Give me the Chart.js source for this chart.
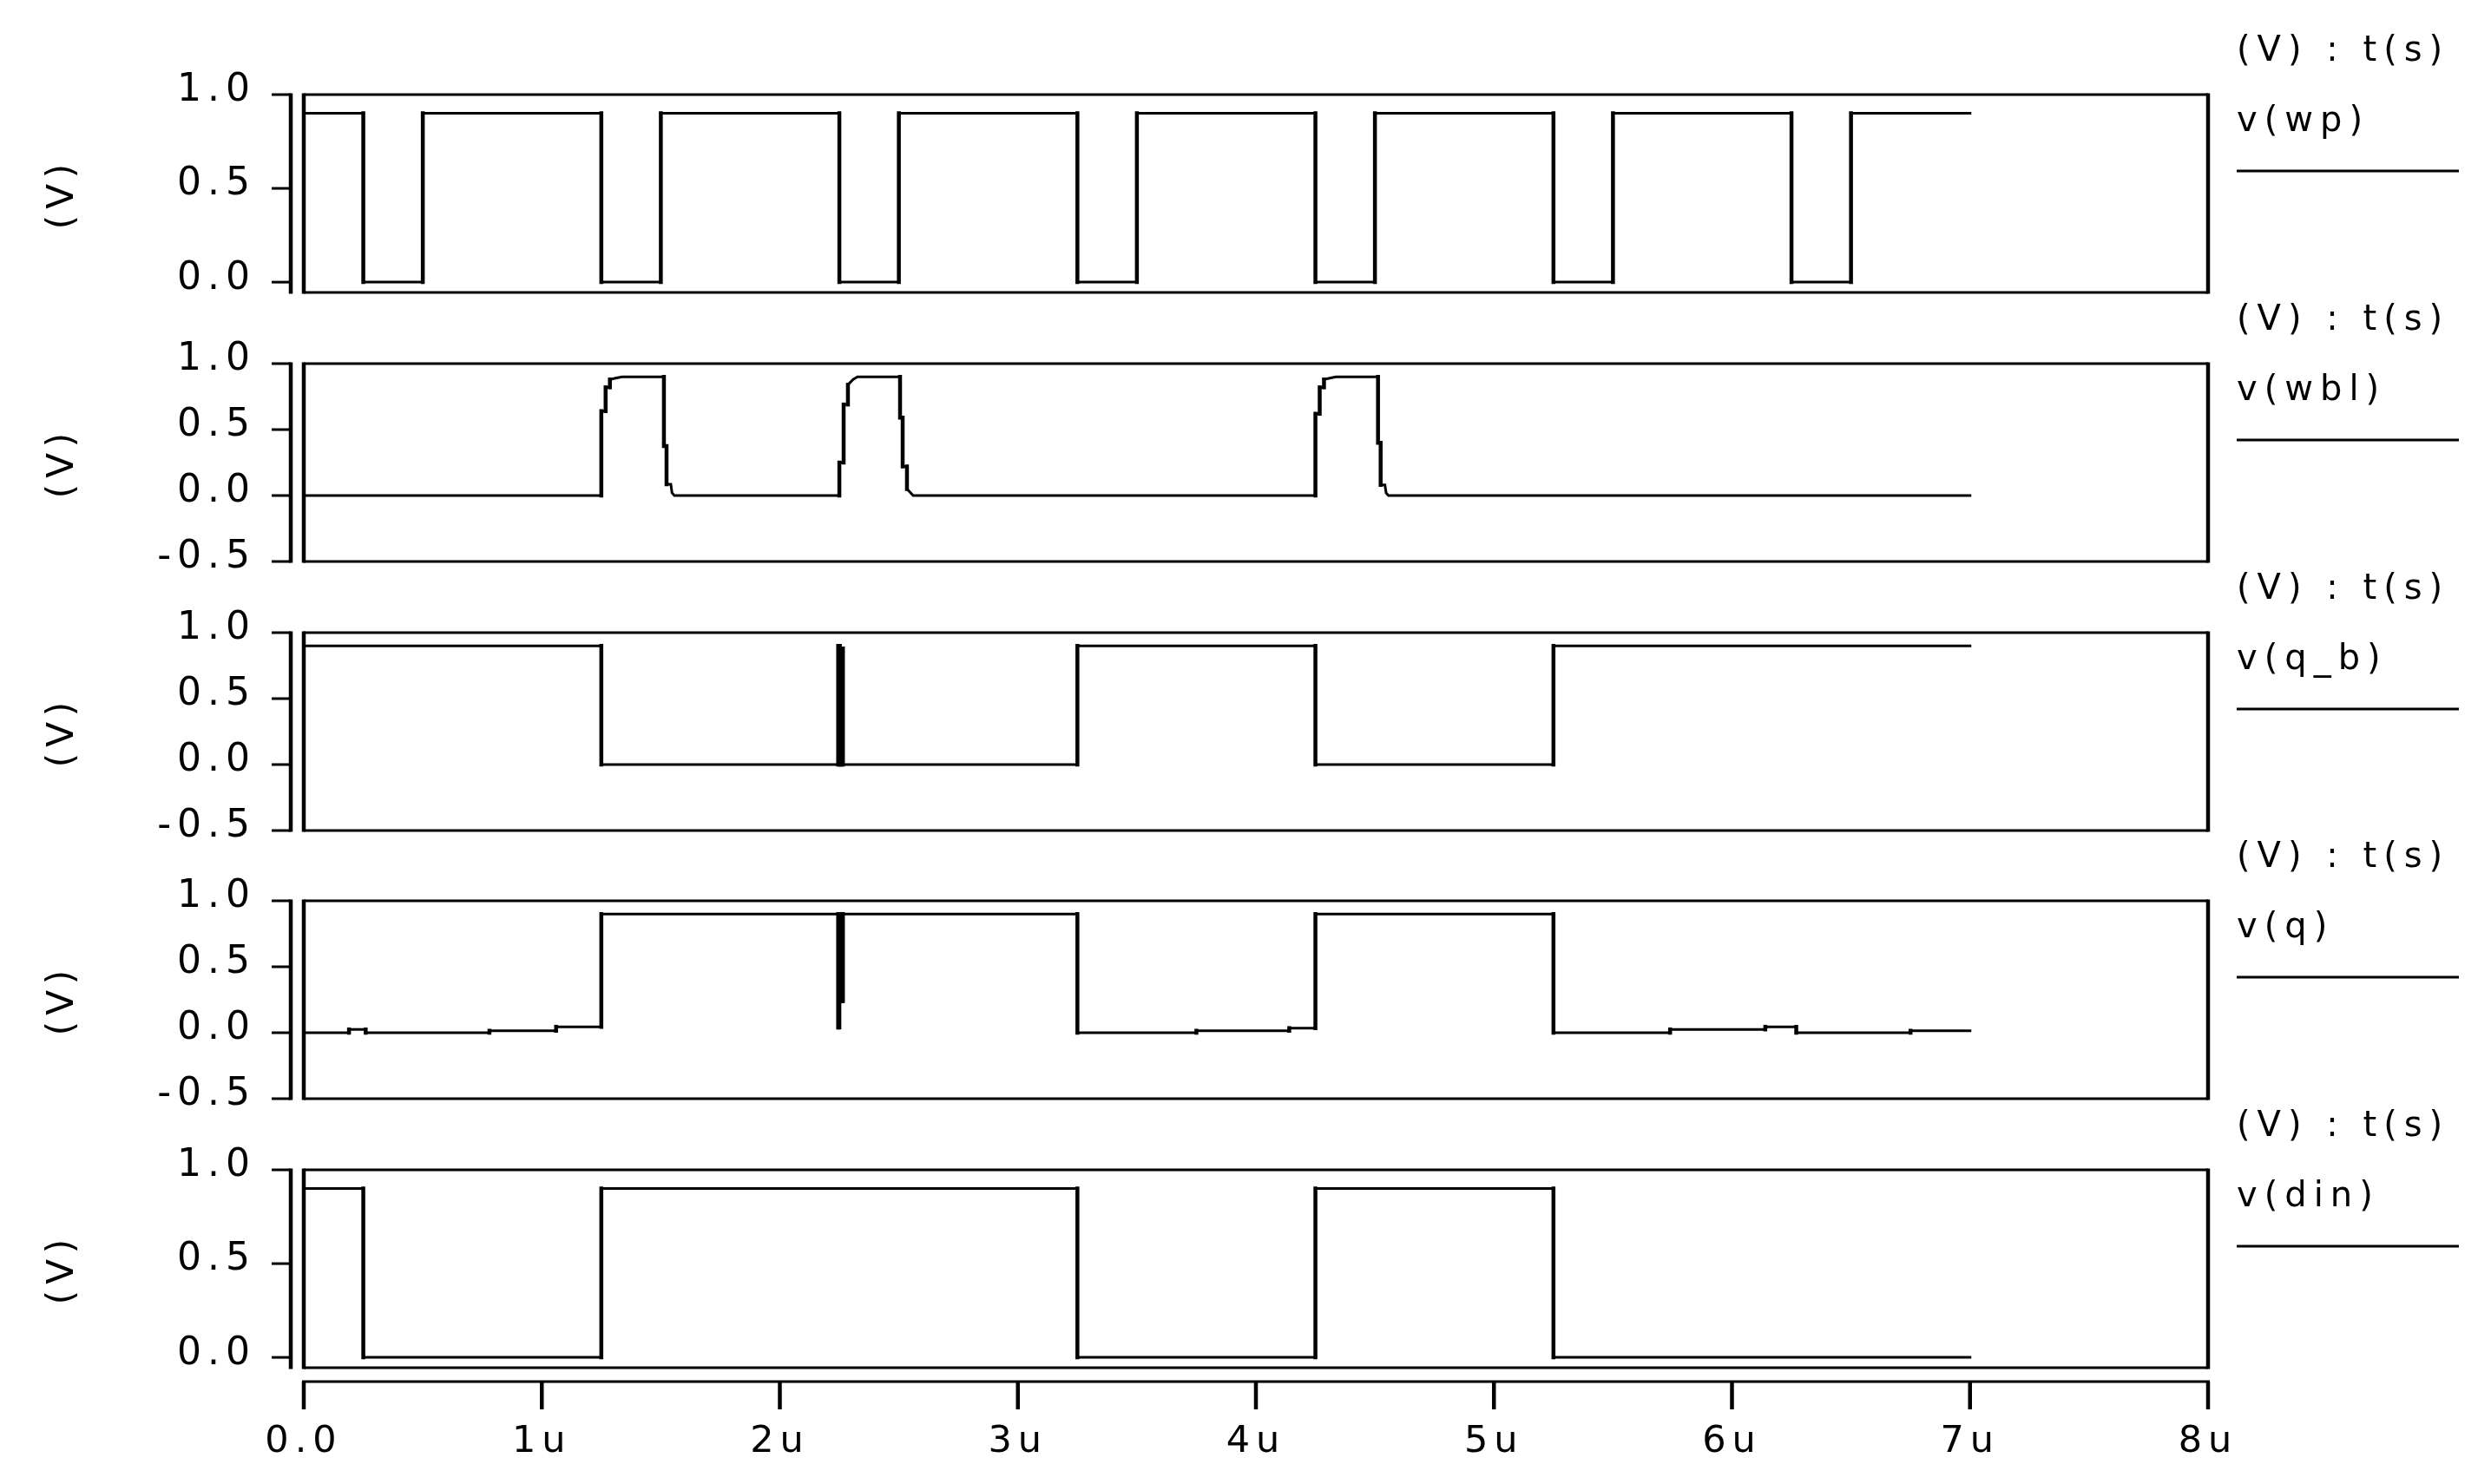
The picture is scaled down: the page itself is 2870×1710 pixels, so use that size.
<!DOCTYPE html>
<html>
<head>
<meta charset="utf-8">
<script src="https://cdn.jsdelivr.net/npm/chart.js@4.4.1/dist/chart.umd.min.js"></script>
<style>
html, body { margin: 0; padding: 0; background: #fff; }
#wrap { position: relative; width: 2870px; height: 1710px; overflow: hidden; background: #fff; }
#wrap canvas { position: absolute; left: 0; }
</style>
</head>
<body>
<div id="wrap"></div>
<script>
// time in u (microseconds)
const timeTicks = [0, 1, 2, 3, 4, 5, 6, 7, 8];
const timeLabels = ['0.0', '1u', '2u', '3u', '4u', '5u', '6u', '7u', '8u'];
const voltTicksShort = [0, 0.5, 1.0];
const voltTicksLong = [-0.5, 0, 0.5, 1.0];
const unitHeader = '(V) : t(s)';
const signalNames = ['v(wp)', 'v(wbl)', 'v(q_b)', 'v(q)', 'v(din)'];

// [t, V] breakpoints
const wp = [
  [0, 0.9], [0.25, 0.9], [0.25, 0], [0.5, 0], [0.5, 0.9],
  [1.25, 0.9], [1.25, 0], [1.5, 0], [1.5, 0.9],
  [2.25, 0.9], [2.25, 0], [2.5, 0], [2.5, 0.9],
  [3.25, 0.9], [3.25, 0], [3.5, 0], [3.5, 0.9],
  [4.25, 0.9], [4.25, 0], [4.5, 0], [4.5, 0.9],
  [5.25, 0.9], [5.25, 0], [5.5, 0], [5.5, 0.9],
  [6.25, 0.9], [6.25, 0], [6.5, 0], [6.5, 0.9],
  [7, 0.9]
];
const wbl = [
  [0, 0], [1.25, 0], [1.25, 0.64], [1.268, 0.64], [1.268, 0.82], [1.286, 0.82], [1.286, 0.88], [1.31, 0.89], [1.336, 0.9],
  [1.513, 0.9], [1.513, 0.375], [1.524, 0.375], [1.524, 0.085], [1.542, 0.085], [1.547, 0.02], [1.557, 0],
  [2.25, 0], [2.25, 0.25], [2.268, 0.25], [2.268, 0.69], [2.286, 0.69], [2.286, 0.84], [2.308, 0.88], [2.326, 0.9],
  [2.505, 0.9], [2.505, 0.59], [2.516, 0.59], [2.516, 0.22], [2.534, 0.22], [2.534, 0.05], [2.56, 0],
  [4.25, 0], [4.25, 0.62], [4.268, 0.62], [4.268, 0.82], [4.286, 0.82], [4.286, 0.88], [4.31, 0.89], [4.336, 0.9],
  [4.513, 0.9], [4.513, 0.4], [4.524, 0.4], [4.524, 0.08], [4.542, 0.08], [4.547, 0.02], [4.557, 0],
  [7, 0]
];
const qb = [
  [0, 0.9], [1.25, 0.9], [1.25, 0], [2.245, 0], [2.245, 0.9], [2.252, 0.9], [2.252, 0],
  [2.258, 0], [2.258, 0.88], [2.265, 0.88], [2.265, 0],
  [3.25, 0], [3.25, 0.9], [4.25, 0.9], [4.25, 0], [5.25, 0], [5.25, 0.9], [7, 0.9]
];
const q = [
  [0, 0], [0.19, 0], [0.19, 0.025], [0.26, 0.025], [0.26, 0], [0.78, 0], [0.78, 0.015],
  [1.06, 0.015], [1.06, 0.045], [1.25, 0.045],
  [1.25, 0.9], [2.245, 0.9], [2.245, 0.04], [2.25, 0.04], [2.25, 0.24], [2.257, 0.24], [2.257, 0.9],
  [2.26, 0.9], [2.26, 0.24], [2.265, 0.24], [2.265, 0.9],
  [3.25, 0.9], [3.25, 0], [3.75, 0], [3.75, 0.015], [4.14, 0.015], [4.14, 0.035], [4.25, 0.035], [4.25, 0.9],
  [5.25, 0.9], [5.25, 0], [5.74, 0], [5.74, 0.025], [6.14, 0.025], [6.14, 0.045], [6.27, 0.045], [6.27, 0],
  [6.75, 0], [6.75, 0.015], [7, 0.015]
];
const din = [
  [0, 0.9], [0.25, 0.9], [0.25, 0], [1.25, 0], [1.25, 0.9], [3.25, 0.9], [3.25, 0],
  [4.25, 0], [4.25, 0.9], [5.25, 0.9], [5.25, 0], [7, 0]
];
const signals = [wp, wbl, qb, q, din];
const yMins = [-0.055, -0.5, -0.5, -0.5, -0.055];

// layout
const W = 2870, H = 1710;
const panelTop = [109, 419, 729, 1038, 1348];
const PANEL_H = 228, TOP_PAD = 100, LEFT_PAD = 40, BOX_LEFT = 350, BOX_RIGHT = 2544;
const FONT = 'DejaVu Sans';

function seg(ctx, x0, y0, x1, y1, w) {
  ctx.lineWidth = w;
  ctx.beginPath();
  ctx.moveTo(x0, y0);
  ctx.lineTo(x1, y1);
  ctx.stroke();
}

// box plus the detached axes, like the waveform viewer draws them
const framePlugin = {
  id: 'frame',
  beforeDraw(chart) { chart.ctx.letterSpacing = '7px'; },
  afterDraw(chart) {
    const { ctx, chartArea: a, scales: { x, y } } = chart;
    ctx.save();
    ctx.strokeStyle = '#000';
    seg(ctx, a.left, a.top, a.right, a.top, 3);
    seg(ctx, a.left, a.bottom, a.right, a.bottom, 3);
    seg(ctx, a.left, a.top - 1.5, a.left, a.bottom + 1.5, 4.5);
    seg(ctx, a.right, a.top - 1.5, a.right, a.bottom + 1.5, 4.5);
    const ax = a.left - 15;
    seg(ctx, ax, a.top - 1.5, ax, a.bottom + 1.5, 4.5);
    y.ticks.forEach(t => {
      const py = y.getPixelForValue(t.value);
      seg(ctx, a.left - 37, py, ax, py, 3);
    });
    if (x.options.display) {
      const ay = a.bottom + 16;
      seg(ctx, a.left - 2, ay, a.right + 2, ay, 3);
      x.ticks.forEach(t => {
        const px = x.getPixelForValue(t.value);
        seg(ctx, px, ay, px, ay + 32, 4.5);
      });
    }
    ctx.restore();
  }
};

const sideLegend = {
  id: 'sideLegend',
  afterDraw(chart) {
    const { ctx, chartArea: a } = chart;
    ctx.save();
    ctx.fillStyle = '#000';
    ctx.strokeStyle = '#000';
    ctx.font = '40px "' + FONT + '"';
    ctx.letterSpacing = '8px';
    ctx.textAlign = 'left';
    ctx.textBaseline = 'middle';
    ctx.fillText(unitHeader, 2577, a.top - 49);
    ctx.fillText(chart.data.datasets[0].label, 2577, a.top + 32);
    seg(ctx, 2577, a.top + 88, 2833, a.top + 88, 3);
    ctx.restore();
  }
};

const wrap = document.getElementById('wrap');

signals.forEach((sig, i) => {
  const last = i === signals.length - 1;
  const top = panelTop[i] - TOP_PAD;
  // canvases overlap; the extra bottom room keeps the y labels' padding from squeezing the box
  const h = last ? H - top : 440;
  const cv = document.createElement('canvas');
  cv.width = W;
  cv.height = h;
  cv.style.top = top + 'px';
  cv.style.width = W + 'px';
  cv.style.height = h + 'px';
  wrap.appendChild(cv);

  const xAxisH = last ? 120 : 0;
  new Chart(cv, {
    type: 'line',
    data: {
      datasets: [{
        label: signalNames[i],
        data: sig.map(p => ({ x: p[0], y: p[1] })),
        borderColor: '#000',
        borderWidth: 3,
        borderCapStyle: 'square',
        pointRadius: 0,
        tension: 0,
        fill: false,
        segment: {
          borderWidth: c => c.p0.parsed.x === c.p1.parsed.x ? 4.5 : 3
        }
      }]
    },
    options: {
      responsive: false,
      animation: false,
      events: [],
      layout: {
        padding: {
          top: TOP_PAD,
          left: LEFT_PAD,
          right: W - BOX_RIGHT,
          bottom: h - TOP_PAD - PANEL_H - xAxisH
        }
      },
      plugins: {
        legend: { display: false },
        tooltip: { enabled: false },
        title: { display: false }
      },
      scales: {
        x: {
          type: 'linear',
          min: 0,
          max: 8,
          display: last,
          position: 'bottom',
          grid: { display: false, drawTicks: false },
          border: { display: false },
          afterBuildTicks: s => { s.ticks = timeTicks.map(v => ({ value: v })); },
          afterFit: s => { s.height = xAxisH; },
          ticks: {
            autoSkip: false,
            maxRotation: 0,
            padding: 60,
            color: '#000',
            font: { family: FONT, size: 43 },
            callback: (v, k) => timeLabels[k]
          }
        },
        y: {
          min: yMins[i],
          max: 1.0,
          grid: { display: false, drawTicks: false },
          border: { display: false },
          afterBuildTicks: s => {
            s.ticks = (yMins[i] < -0.1 ? voltTicksLong : voltTicksShort).map(v => ({ value: v }));
          },
          afterFit: s => { s.width = BOX_LEFT - LEFT_PAD; },
          title: {
            display: true,
            text: '(V)',
            color: '#000',
            font: { family: FONT, size: 42 },
            padding: { top: 8, bottom: 0 }
          },
          ticks: {
            padding: 55,
            labelOffset: -4,
            color: '#000',
            font: { family: FONT, size: 44 },
            callback: v => v.toFixed(1)
          }
        }
      }
    },
    plugins: [framePlugin, sideLegend]
  });
});
</script>
</body>
</html>
